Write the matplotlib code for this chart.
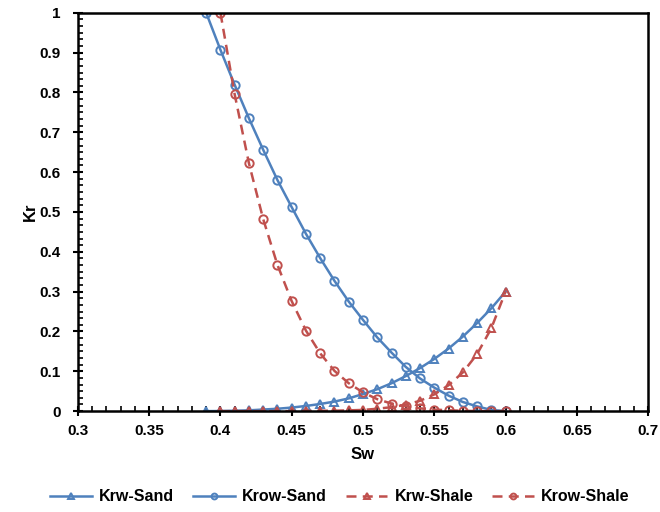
import matplotlib
matplotlib.use("Agg")
import matplotlib.pyplot as plt
from matplotlib.ticker import MultipleLocator, AutoMinorLocator, FormatStrFormatter

plt.rcParams['font.family'] = ['Liberation Sans', 'DejaVu Sans']
plt.rcParams['font.weight'] = 'bold'

# saturation points
sw_sand = [0.39, 0.40, 0.41, 0.42, 0.43, 0.44, 0.45, 0.46, 0.47, 0.48, 0.49,
           0.50, 0.51, 0.52, 0.53, 0.54, 0.55, 0.56, 0.57, 0.58, 0.59, 0.60]
sw_shale = [0.40, 0.41, 0.42, 0.43, 0.44, 0.45, 0.46, 0.47, 0.48, 0.49, 0.50,
            0.51, 0.52, 0.53, 0.54, 0.55, 0.56, 0.57, 0.58, 0.59, 0.60]

krw_sand = [0.0, 0.0003, 0.001, 0.002, 0.004, 0.006, 0.009, 0.013, 0.018, 0.024, 0.032,
            0.043, 0.055, 0.070, 0.088, 0.108, 0.131, 0.157, 0.187, 0.221, 0.258, 0.30]
krow_sand = [1.0, 0.907, 0.819, 0.735, 0.656, 0.580, 0.512, 0.445, 0.384, 0.327, 0.275,
             0.229, 0.185, 0.147, 0.111, 0.082, 0.059, 0.039, 0.023, 0.012, 0.003, 0.0]
krw_shale = [0.0, 0.0, 0.0, 0.0, 0.0, 0.0, 0.0005, 0.001, 0.001, 0.002, 0.003,
             0.006, 0.010, 0.016, 0.026, 0.042, 0.065, 0.097, 0.143, 0.208, 0.30]
krow_shale = [1.0, 0.795, 0.622, 0.482, 0.367, 0.276, 0.202, 0.145, 0.101, 0.070, 0.047,
              0.030, 0.019, 0.012, 0.007, 0.004, 0.002, 0.001, 0.0, 0.0, 0.0]

blue = '#4F81BD'
red = '#C0504D'
dash = (0, (4, 2.5))

fig = plt.figure(figsize=(6.6, 5.12), dpi=100)
ax = fig.add_axes([0.118, 0.197, 0.864, 0.778])

mk = dict(markersize=6, markerfacecolor='none', markeredgewidth=1.4, linewidth=1.8)
ax.plot(sw_sand, krw_sand, color=blue, marker='^', label='Krw-Sand', **mk)
ax.plot(sw_sand, krow_sand, color=blue, marker='o', label='Krow-Sand', **mk)
ax.plot(sw_shale, krw_shale, color=red, marker='^', linestyle=dash, label='Krw-Shale', **mk)
ax.plot(sw_shale, krow_shale, color=red, marker='o', linestyle=dash, label='Krow-Shale', **mk)

ax.set_xlim(0.3, 0.7)
ax.set_ylim(0, 1)
ax.xaxis.set_major_locator(MultipleLocator(0.05))
ax.xaxis.set_minor_locator(AutoMinorLocator(5))
ax.yaxis.set_major_locator(MultipleLocator(0.1))
ax.yaxis.set_minor_locator(AutoMinorLocator(6))
ax.xaxis.set_major_formatter(FormatStrFormatter('%g'))
ax.yaxis.set_major_formatter(FormatStrFormatter('%g'))

ax.tick_params(which='major', direction='inout', length=7, width=1.5, labelsize=11)
ax.tick_params(which='minor', direction='in', length=3.5, width=1.2)
ax.tick_params(axis='x', pad=6)
ax.tick_params(axis='y', pad=9)
for s in ax.spines.values():
    s.set_linewidth(1.8)
    s.set_clip_on(False)
for lab in ax.get_xticklabels() + ax.get_yticklabels():
    lab.set_fontweight('bold')

ax.set_xlabel('Sw', fontsize=12, fontweight='bold', labelpad=6)
ax.set_ylabel('Kr', fontsize=12, fontweight='bold', labelpad=1)

fig.legend(loc='center', bbox_to_anchor=(0.515, 0.03), ncol=4, frameon=False,
           prop={'size': 11.5, 'weight': 'bold'}, handlelength=2.6, columnspacing=1.2,
           handletextpad=0.45, markerscale=0.7)

fig.savefig('out.png', dpi=100)
